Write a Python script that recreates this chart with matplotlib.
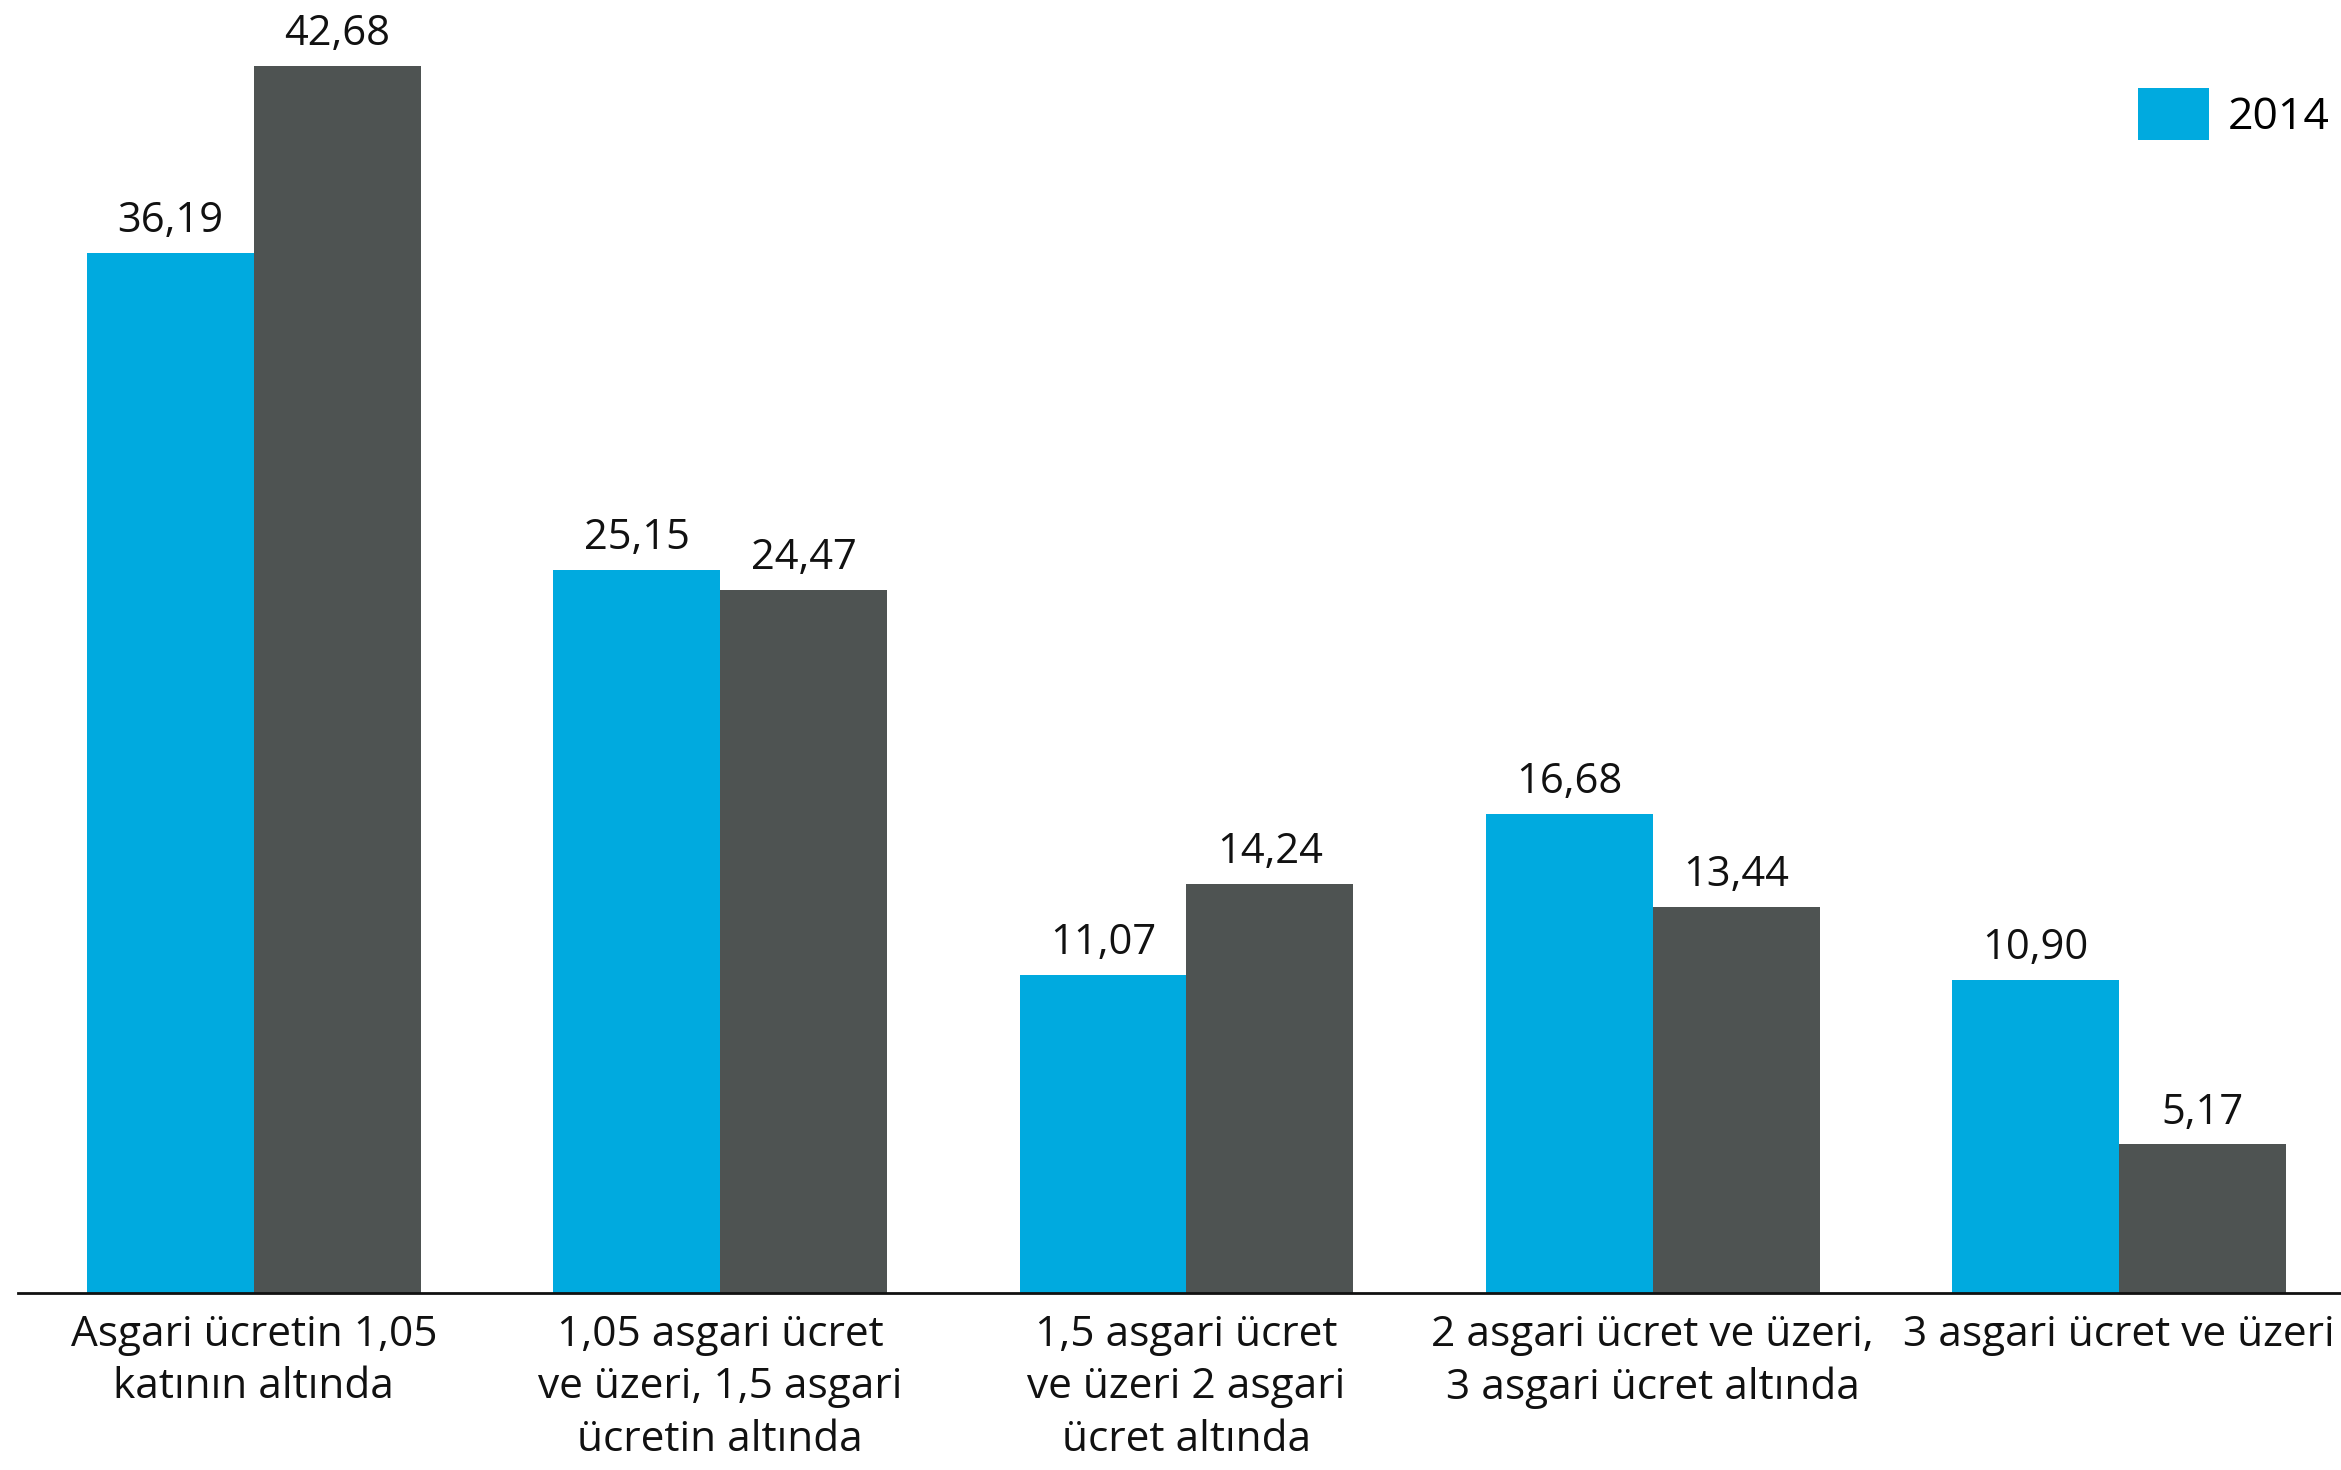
import matplotlib
matplotlib.use("Agg")
import matplotlib.pyplot as plt
import numpy as np

plt.rcParams['font.family'] = ['Open Sans', 'DejaVu Sans']

categories = [
    "Asgari ücretin 1,05\nkatının altında",
    "1,05 asgari ücret\nve üzeri, 1,5 asgari\nücretin altında",
    "1,5 asgari ücret\nve üzeri 2 asgari\nücret altında",
    "2 asgari ücret ve üzeri,\n3 asgari ücret altında",
    "3 asgari ücret ve üzeri",
]
values_2014 = [36.19, 25.15, 11.07, 16.68, 10.90]
values_second = [42.68, 24.47, 14.24, 13.44, 5.17]
series_label = "2014"

BLUE = "#00AADF"
GRAY = "#4E5352"

W, H, DPI = 2341, 1470, 100
fig = plt.figure(figsize=(W / DPI, H / DPI), dpi=DPI)
ax = fig.add_axes([18 / W, (H - 1293) / H, (W - 18) / W, 1293 / H])

x = np.arange(len(categories))
bw = 0.358
b1 = ax.bar(x - bw / 2, values_2014, bw, color=BLUE, label=series_label)
b2 = ax.bar(x + bw / 2, values_second, bw, color=GRAY)

def fmt(v):
    return f"{v:.2f}".replace(".", ",")

for bars, vals in ((b1, values_2014), (b2, values_second)):
    for rect, v in zip(bars, vals):
        ax.annotate(fmt(v), (rect.get_x() + rect.get_width() / 2, v),
                    xytext=(0, 15), textcoords="offset points",
                    ha="center", va="baseline", fontsize=30, color="#111111")

ax.set_xlim(-0.506, 4.476)
ax.set_ylim(0, 44.98)
ax.set_xticks(x)
ax.set_xticklabels(categories, fontsize=30.5, color="#111111", linespacing=1.33)
ax.tick_params(axis="x", length=0, pad=15)
ax.set_yticks([])
for s in ("top", "right", "left"):
    ax.spines[s].set_visible(False)
ax.spines["bottom"].set_linewidth(2)
ax.spines["bottom"].set_color("#111111")

leg = fig.legend(handles=[b1], labels=[series_label], loc="upper left",
                 bbox_to_anchor=(2138 / W, 1 - 88 / H), frameon=False,
                 fontsize=32, borderpad=0, borderaxespad=0,
                 handlelength=1.6, handleheight=1.42, handletextpad=0.42)

fig.savefig("out.png", dpi=DPI)
